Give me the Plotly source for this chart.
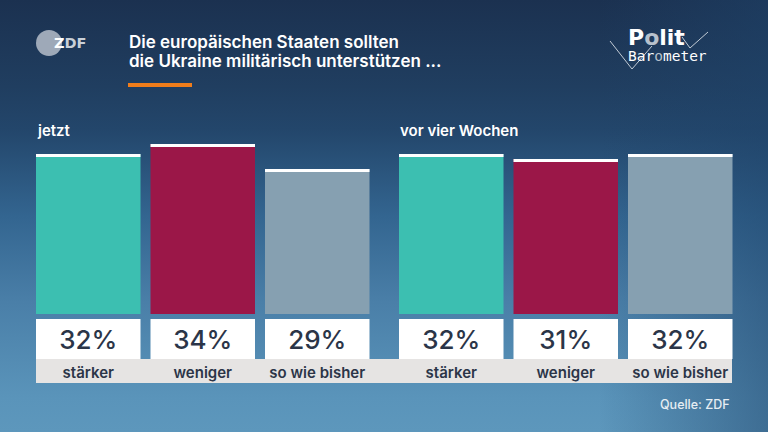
import base64
import plotly.graph_objects as go

# ---------------- data ----------------
categories = ["stärker", "weniger", "so wie bisher"]
values_now = [32, 34, 29]
values_before = [32, 31, 32]
group_titles = ["jetzt", "vor vier Wochen"]
title_lines = ["Die europäischen Staaten sollten", "die Ukraine militärisch unterstützen ..."]
source_text = "Quelle: ZDF"

# ---------------- style ----------------
W, H = 768, 432
bar_colors = ["#3cbfb1", "#9b1748", "#86a0b1"]
cap_color = "#ffffff"
cap_h = 0.6
dark_text = "#2b3548"
FONT = "Inter"


def px_y(p):
    return (H - p) / H


def px_x(p):
    return p / W


svg = f"""<svg xmlns='http://www.w3.org/2000/svg' width='{W}' height='{H}' viewBox='0 0 {W} {H}' preserveAspectRatio='none'>
<defs>
<linearGradient id='g' x1='0' y1='0' x2='0' y2='1'>
<stop offset='0' stop-color='#1b3150'/>
<stop offset='0.2' stop-color='#203e60'/>
<stop offset='0.3' stop-color='#23466b'/>
<stop offset='0.5' stop-color='#336590'/>
<stop offset='0.7' stop-color='#4a7fa8'/>
<stop offset='0.92' stop-color='#5a94ba'/>
<stop offset='1' stop-color='#5d97bc'/>
</linearGradient>
<linearGradient id='h' x1='0' y1='0' x2='1' y2='0'>
<stop offset='0.78' stop-color='#1f446b' stop-opacity='0'/>
<stop offset='1' stop-color='#1f446b' stop-opacity='0.5'/>
</linearGradient>
</defs>
<rect width='{W}' height='{H}' fill='url(#g)'/>
<rect width='{W}' height='{H}' fill='url(#h)'/>
</svg>"""
bg_src = "data:image/svg+xml;base64," + base64.b64encode(svg.encode()).decode()

fig = go.Figure()

groups = [(values_now, "x", "y", "y3"), (values_before, "x2", "y2", "y4")]
for vals, xa, ya, yb in groups:
    fig.add_trace(go.Bar(x=categories, y=vals, xaxis=xa, yaxis=ya,
                         marker=dict(color=bar_colors, line=dict(width=0)),
                         hoverinfo="skip", showlegend=False))
    fig.add_trace(go.Bar(x=categories, y=[cap_h] * len(vals),
                         base=[v - cap_h for v in vals], xaxis=xa, yaxis=ya,
                         marker=dict(color=cap_color, line=dict(width=0)),
                         hoverinfo="skip", showlegend=False))
    fig.add_trace(go.Bar(x=categories, y=[1] * len(vals), xaxis=xa, yaxis=yb,
                         marker=dict(color="white", line=dict(width=0)),
                         text=[f"{v}%" for v in vals], textposition="inside",
                         insidetextanchor="middle", constraintext="none",
                         textfont=dict(family=FONT, size=26, color=dark_text, weight=500),
                         hoverinfo="skip", showlegend=False))

main_dom = [px_y(314), px_y(114)]
box_dom = [px_y(359), px_y(319)]

xcommon = dict(type="category", categoryorder="array", categoryarray=categories,
               showgrid=False, zeroline=False, showline=False, ticks="",
               tickfont=dict(family=FONT, size=15, color=dark_text, weight=600),
               ticklabelstandoff=3, fixedrange=True)
ycommon = dict(visible=False, fixedrange=True)

fig.update_layout(
    width=W, height=H,
    margin=dict(l=0, r=0, t=0, b=0),
    paper_bgcolor="#2c5378", plot_bgcolor="rgba(0,0,0,0)",
    barmode="overlay", bargap=10 / 114.5,
    xaxis=dict(domain=[px_x(31), px_x(374.5)], anchor="y3", **xcommon),
    xaxis2=dict(domain=[px_x(394), px_x(737.5)], anchor="y4", **xcommon),
    yaxis=dict(domain=main_dom, range=[0, 40], anchor="x", **ycommon),
    yaxis2=dict(domain=main_dom, range=[0, 40], anchor="x2", **ycommon),
    yaxis3=dict(domain=box_dom, range=[0, 1], anchor="x", **ycommon),
    yaxis4=dict(domain=box_dom, range=[0, 1], anchor="x2", **ycommon),
    images=[dict(source=bg_src, xref="paper", yref="paper", x=0, y=1,
                 sizex=1, sizey=1, xanchor="left", yanchor="top",
                 sizing="stretch", layer="below")],
)

shapes = [
    # grey label band
    dict(type="rect", xref="paper", yref="paper", x0=px_x(36), x1=px_x(732),
         y0=px_y(383), y1=px_y(359), fillcolor="#e6e4e3", line=dict(width=0),
         layer="below"),
    # orange accent line
    dict(type="rect", xref="paper", yref="paper", x0=px_x(128), x1=px_x(192),
         y0=px_y(87), y1=px_y(83), fillcolor="#f07d1a", line=dict(width=0)),
    # ZDF circle
    dict(type="circle", xref="paper", yref="paper", x0=px_x(36), x1=px_x(62),
         y0=px_y(56), y1=px_y(30), fillcolor="#9ea9b8", line=dict(width=0)),
    # Politbarometer tick marks
    dict(type="path", xref="paper", yref="paper",
         path=f"M {px_x(610)} {px_y(41)} L {px_x(632)} {px_y(69)} L {px_x(652)} {px_y(46)}",
         line=dict(color="#c3ccd6", width=1)),
    dict(type="path", xref="paper", yref="paper",
         path=f"M {px_x(682)} {px_y(37)} L {px_x(690)} {px_y(48)} L {px_x(708)} {px_y(32)}",
         line=dict(color="#c3ccd6", width=1)),
]
fig.update_layout(shapes=shapes)

ann = []
ann.append(dict(text=title_lines[0], x=px_x(127), y=px_y(54), xanchor="left", yanchor="bottom",
                font=dict(family=FONT, size=17, color="white", weight=600)))
ann.append(dict(text=title_lines[1], x=px_x(127), y=px_y(73), xanchor="left", yanchor="bottom",
                font=dict(family=FONT, size=17, color="white", weight=600)))
ann.append(dict(text=group_titles[0], x=px_x(35), y=px_y(130), xanchor="left", yanchor="middle",
                font=dict(family=FONT, size=15, color="white", weight=600)))
ann.append(dict(text=group_titles[1], x=px_x(398), y=px_y(130), xanchor="left", yanchor="middle",
                font=dict(family=FONT, size=15, color="white", weight=600)))
ann.append(dict(text=source_text, x=px_x(732), y=px_y(404), xanchor="right", yanchor="middle",
                font=dict(family=FONT, size=12.5, color="#e6edf3", weight=500)))
ann.append(dict(text="<span style='color:#ffffff'>Z</span><span style='color:#c9d0d8'>DF</span>",
                x=px_x(52), y=px_y(43), xanchor="left", yanchor="middle",
                font=dict(family="DejaVu Sans", size=14.5, weight=700)))
ann.append(dict(text=("<span style='font-family:DejaVu Sans;font-size:22px;font-weight:bold'>"
                      "P<span style='color:#b7c1cc'>o</span>lit</span><br>"
                      "<span style='font-family:DejaVu Sans Mono;font-size:14.5px'>"
                      "Bar<span style='color:#b7c1cc'>o</span>meter</span>"),
                x=px_x(626), y=px_y(44), xanchor="left", yanchor="middle", align="left",
                font=dict(family="DejaVu Sans", size=12, color="white")))
for a in ann:
    a.update(xref="paper", yref="paper", showarrow=False)
fig.update_layout(annotations=ann)

fig.write_html("out.html")
